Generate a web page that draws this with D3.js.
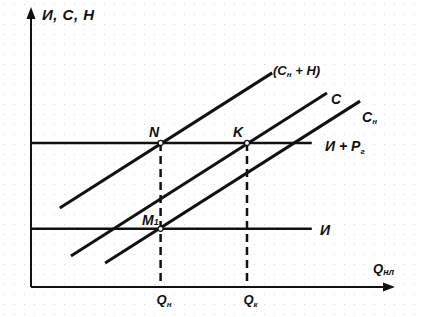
<!DOCTYPE html>
<html>
<head>
    <meta charset="utf-8">
    <title>И, С, Н</title>
    <script src="https://d3js.org/d3.v7.min.js"></script>
    <style>
        body { margin: 0; background: #fff; }
        text { font-family: "Liberation Sans", Arial, sans-serif; font-style: italic; font-weight: bold; fill: #111; }
    </style>
</head>
<body>
    <div id="chart"></div>

    <script>
        // Data (chart units)
        var levelNames = ["И", "И + Pг"];
        var levelValues = [21, 52];
        var levelEnd = 78;

        var lineNames = ["(Cн + H)", "C", "Cн"];
        var lineStarts = [[8, 28.5], [11.1, 11.2], [20.6, 8.7]];
        var lineEnds = [[67, 77.3], [82.2, 70.0], [91.4, 67.1]];

        var qTicks = [36, 60];
        var qTickSubs = ["н", "к"];

        var points = [
            { name: "N", q: 36, v: 52 },
            { name: "K", q: 60, v: 52 },
            { name: "M", q: 36, v: 21 }
        ];

        var width = 421;
        var height = 317;

        var svg = d3.select("#chart")
            .append("svg")
            .attr("width", width)
            .attr("height", height);

        // faint scan-like dot texture
        var pat = svg.append("defs").append("pattern")
            .attr("id", "dots")
            .attr("width", 10).attr("height", 10)
            .attr("patternUnits", "userSpaceOnUse");
        pat.append("rect").attr("x", 4).attr("y", 4).attr("width", 1).attr("height", 1).attr("fill", "#d4d4d4");
        svg.append("rect").attr("width", width).attr("height", height).attr("fill", "url(#dots)");

        var x = d3.scaleLinear().domain([0, 100]).range([31, 391]);
        var y = d3.scaleLinear().domain([0, 100]).range([287, 10]);

        // axes
        var xAxis = svg.append("g")
            .attr("transform", "translate(0," + y(0) + ")")
            .call(d3.axisBottom(x).tickValues(qTicks).tickSize(0).tickSizeOuter(0).tickFormat(""));
        xAxis.select(".domain").attr("d", "M" + x(0) + ",0H" + (x(100) - 2)).attr("stroke", "#111").attr("stroke-width", 2);

        var yAxis = svg.append("g")
            .attr("transform", "translate(" + x(0) + ",0)")
            .call(d3.axisLeft(y).tickValues([]).tickSizeOuter(0));
        yAxis.select(".domain").attr("d", "M0," + y(0) + "V" + (y(100) + 2)).attr("stroke", "#111").attr("stroke-width", 2);

        // arrow heads
        svg.append("path")
            .attr("d", "M" + (x(100) + 4) + "," + y(0) + "l-12,-4.5l0,9z")
            .attr("fill", "#111");
        svg.append("path")
            .attr("d", "M" + x(0) + "," + (y(100) - 3) + "l-4.5,12l9,0z")
            .attr("fill", "#111");

        // tick labels Qн, Qк
        xAxis.selectAll(".tick text")
            .attr("y", 8)
            .attr("dy", "0.71em")
            .style("font-size", "13px")
            .each(function(d, i) {
                var t = d3.select(this);
                t.text("");
                t.append("tspan").text("Q");
                t.append("tspan").attr("dy", 3).style("font-size", "8px").text(qTickSubs[i]);
            })
            .attr("x", 3);

        // axis titles
        svg.append("text").attr("x", 42).attr("y", 20)
            .style("font-size", "15px").style("letter-spacing", "0.5px").text("И, С, Н");
        var xt = svg.append("text").attr("x", 373).attr("y", 273).style("font-size", "13px");
        xt.append("tspan").text("Q");
        xt.append("tspan").attr("dy", 2).style("font-size", "9px").text("нл");

        // dashed verticals
        svg.selectAll(".drop")
            .data(qTicks)
            .enter().append("line")
            .attr("x1", function(d) { return x(d); })
            .attr("x2", function(d) { return x(d); })
            .attr("y1", y(levelValues[1]))
            .attr("y2", y(0))
            .attr("stroke", "#111")
            .attr("stroke-width", 2.5)
            .attr("stroke-dasharray", "8,5");

        // horizontal levels
        svg.selectAll(".level")
            .data(levelValues)
            .enter().append("line")
            .attr("x1", x(0))
            .attr("x2", x(levelEnd))
            .attr("y1", function(d) { return y(d); })
            .attr("y2", function(d) { return y(d); })
            .attr("stroke", "#111")
            .attr("stroke-width", 2.5);

        // sloped lines
        svg.selectAll(".cost")
            .data(lineNames)
            .enter().append("line")
            .attr("x1", function(d, i) { return x(lineStarts[i][0]); })
            .attr("y1", function(d, i) { return y(lineStarts[i][1]); })
            .attr("x2", function(d, i) { return x(lineEnds[i][0]); })
            .attr("y2", function(d, i) { return y(lineEnds[i][1]); })
            .attr("stroke", "#111")
            .attr("stroke-width", 3);

        // line labels
        var lab = svg.append("text").attr("x", 273).attr("y", 75).style("font-size", "13px");
        lab.append("tspan").text("(C");
        lab.append("tspan").attr("dy", 2).style("font-size", "8px").text("н");
        lab.append("tspan").attr("dy", -2).text(" + H)");

        svg.append("text").attr("x", 331).attr("y", 104).style("font-size", "14px").text("C");

        var cn = svg.append("text").attr("x", 362).attr("y", 122).style("font-size", "14px");
        cn.append("tspan").text("C");
        cn.append("tspan").attr("dy", 2).style("font-size", "8px").text("н");

        var ip = svg.append("text").attr("x", 325).attr("y", y(levelValues[1]) + 8).style("font-size", "14px");
        ip.append("tspan").text("И + P");
        ip.append("tspan").attr("dy", 3).style("font-size", "8px").text("г");

        svg.append("text").attr("x", 320).attr("y", y(levelValues[0]) + 6).style("font-size", "14px").text(levelNames[0]);

        // intersection points
        svg.selectAll(".pt")
            .data(points)
            .enter().append("circle")
            .attr("cx", function(d) { return x(d.q); })
            .attr("cy", function(d) { return y(d.v); })
            .attr("r", 2.5)
            .attr("fill", "#fff")
            .attr("stroke", "#111")
            .attr("stroke-width", 1.2);

        svg.append("text").attr("x", 149).attr("y", 137).style("font-size", "14px").text("N");
        svg.append("text").attr("x", 233).attr("y", 137).style("font-size", "14px").text("K");
        var m = svg.append("text").attr("x", 142).attr("y", 225).style("font-size", "14px");
        m.append("tspan").text("M");
        m.append("tspan").style("font-size", "9px").text("1");
    </script>
</body>
</html>
